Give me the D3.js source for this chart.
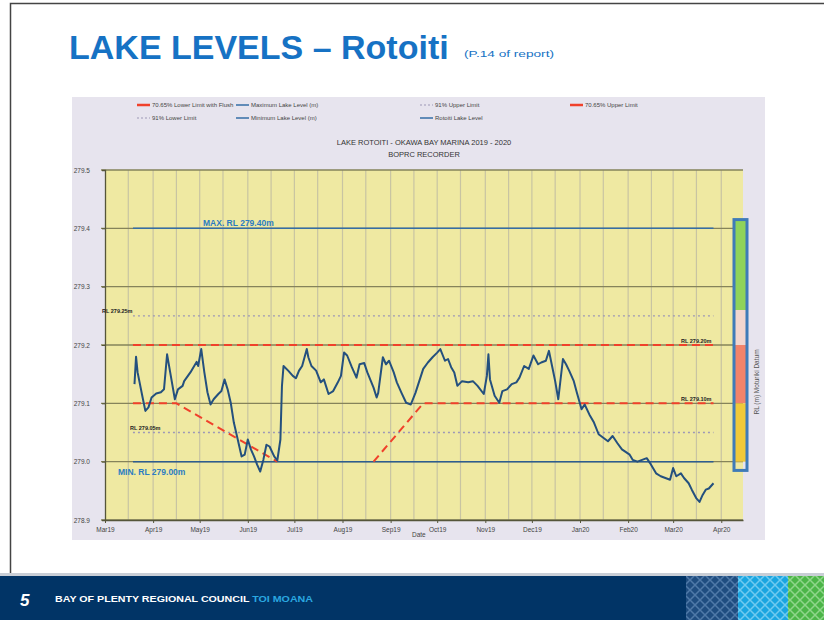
<!DOCTYPE html>
<html>
<head>
<meta charset="utf-8">
<script src="https://cdn.jsdelivr.net/npm/d3@7"></script>
<style>
  body { margin: 0; background: #fff; }
  svg { display: block; font-family: "Liberation Sans", Arial, sans-serif; }
</style>
</head>
<body>
<div id="slide"></div>
<script>
// lake level readings
const levelDates = [
  "2019-03-20","2019-03-21","2019-03-22","2019-03-25","2019-03-27","2019-03-29","2019-03-31",
  "2019-04-03","2019-04-06","2019-04-08","2019-04-10","2019-04-12","2019-04-15","2019-04-17",
  "2019-04-20","2019-04-21","2019-04-25","2019-04-29","2019-04-30","2019-05-02","2019-05-04",
  "2019-05-06","2019-05-08","2019-05-10","2019-05-13","2019-05-15","2019-05-17","2019-05-19",
  "2019-05-21","2019-05-23","2019-05-25","2019-05-28","2019-05-30","2019-06-01","2019-06-03",
  "2019-06-05","2019-06-07","2019-06-09","2019-06-11","2019-06-13","2019-06-15","2019-06-18",
  "2019-06-20","2019-06-22","2019-06-23","2019-06-24","2019-06-27","2019-06-30","2019-07-02",
  "2019-07-04","2019-07-06","2019-07-09","2019-07-10","2019-07-12","2019-07-15","2019-07-18",
  "2019-07-20","2019-07-23","2019-07-26","2019-07-29","2019-07-31","2019-08-02","2019-08-04",
  "2019-08-07","2019-08-10","2019-08-12","2019-08-15","2019-08-17","2019-08-21","2019-08-23",
  "2019-08-24","2019-08-27","2019-08-29","2019-08-31","2019-09-03","2019-09-05","2019-09-08",
  "2019-09-11","2019-09-14","2019-09-17","2019-09-22","2019-09-25","2019-09-28","2019-10-01",
  "2019-10-03","2019-10-06","2019-10-08","2019-10-10","2019-10-12","2019-10-14","2019-10-17",
  "2019-10-21","2019-10-24","2019-10-27","2019-10-31","2019-11-02","2019-11-03","2019-11-04",
  "2019-11-07","2019-11-10","2019-11-12","2019-11-15","2019-11-18","2019-11-21","2019-11-23",
  "2019-11-26","2019-11-29","2019-12-02","2019-12-05","2019-12-07","2019-12-10","2019-12-12",
  "2019-12-14","2019-12-16","2019-12-18","2019-12-21","2019-12-23","2019-12-25","2019-12-28",
  "2019-12-30","2020-01-02","2020-01-04","2020-01-07","2020-01-10","2020-01-13","2020-01-16",
  "2020-01-19","2020-01-22","2020-01-25","2020-01-28","2020-02-02","2020-02-04","2020-02-07",
  "2020-02-10","2020-02-13","2020-02-15","2020-02-19","2020-02-22","2020-02-25","2020-02-28",
  "2020-03-01","2020-03-03","2020-03-06","2020-03-08","2020-03-11","2020-03-13","2020-03-16",
  "2020-03-18","2020-03-20","2020-03-22","2020-03-24","2020-03-27"
];
const levelValues = [
  279.133,279.180,279.153,279.113,279.087,279.093,279.110,
  279.117,279.119,279.124,279.184,279.153,279.107,279.124,
  279.130,279.138,279.153,279.171,279.164,279.193,279.153,
  279.119,279.098,279.107,279.116,279.121,279.141,279.124,
  279.101,279.067,279.044,279.009,279.012,279.038,279.021,
  279.009,278.995,278.983,279.003,279.029,279.026,279.009,
  279.002,279.038,279.130,279.164,279.156,279.147,279.143,
  279.156,279.164,279.193,279.179,279.164,279.156,279.136,
  279.141,279.116,279.121,279.136,279.147,279.187,279.182,
  279.162,279.144,279.167,279.169,279.153,279.127,279.110,
  279.118,279.179,279.167,279.173,279.153,279.136,279.118,
  279.101,279.098,279.118,279.159,279.170,279.179,279.187,
  279.193,279.173,279.176,279.162,279.153,279.130,279.138,
  279.136,279.138,279.130,279.116,279.147,279.184,279.141,
  279.113,279.101,279.121,279.124,279.133,279.136,279.144,
  279.164,279.159,279.182,279.167,279.170,279.173,279.190,
  279.164,279.138,279.107,279.176,279.167,279.156,279.138,
  279.118,279.090,279.098,279.081,279.067,279.047,279.041,
  279.035,279.044,279.032,279.021,279.012,279.003,279.000,
  279.003,279.006,278.998,278.980,278.975,278.972,278.969,
  278.989,278.975,278.980,278.972,278.963,278.952,278.937,
  278.931,278.943,278.952,278.954,278.963
];

// flat limits over the period
const limitStart = "2019-03-19";
const limitEnd = "2020-03-27";
const maxLevel = 279.40;
const minLevel = 279.00;
const upper91 = 279.25;
const lower91 = 279.05;
const upper7065 = 279.20;

// 70.65% lower limit with flush (null = break)
const flushDates = ["2019-03-19","2019-04-16","2019-06-20","2019-07-20","2019-08-21","2019-09-22","2020-03-27"];
const flushValues = [279.10, 279.10, 279.00, null, 279.00, 279.10, 279.10];

const yTicks = [279.5, 279.4, 279.3, 279.2, 279.1, 279.0, 278.9];
const xDomain = ["2019-03-01", "2020-04-15"];

const W = 824, H = 620;
const parse = d3.timeParse("%Y-%m-%d");

const svg = d3.select("#slide").append("svg")
  .attr("width", W).attr("height", H);

// slide frame
svg.append("rect").attr("x", 10.5).attr("y", 3.5).attr("width", W).attr("height", H)
  .attr("fill", "#fff").attr("stroke", "#444").attr("stroke-width", 1.5);

svg.append("text").attr("x", 69).attr("y", 59)
  .attr("font-size", 34).attr("font-weight", "bold").attr("fill", "#1672c4")
  .text("LAKE LEVELS \u2013 Rotoiti");
svg.append("text").attr("x", 464).attr("y", 57)
  .attr("font-size", 9.5).attr("fill", "#1672c4")
  .attr("textLength", 90).attr("lengthAdjust", "spacingAndGlyphs")
  .text("(P.14 of report)");

// embedded chart picture
const box = { x: 72, y: 97, w: 693, h: 443 };
svg.append("rect").attr("x", box.x).attr("y", box.y).attr("width", box.w).attr("height", box.h)
  .attr("fill", "#e7e4ee");

const x = d3.scaleTime().domain(xDomain.map(parse)).range([105, 743]);
const y = d3.scaleLinear().domain([278.9, 279.5]).range([520, 170]);

const plot = svg.append("g");
plot.append("rect").attr("x", 105).attr("y", 170).attr("width", 638).attr("height", 350)
  .attr("fill", "#efe9a2");

// half-month vertical grid
const grid = d3.timeDay.range(parse("2019-03-02"), parse("2020-04-14"))
  .filter(d => d.getDate() === 1 || d.getDate() === 16);
plot.selectAll(".vg").data(grid).enter().append("line")
  .attr("x1", d => x(d)).attr("x2", d => x(d))
  .attr("y1", 170).attr("y2", 520)
  .attr("stroke", "#c8c4a2").attr("stroke-width", 1.2);

plot.selectAll(".hg").data(yTicks).enter().append("line")
  .attr("x1", 101).attr("x2", 743)
  .attr("y1", d => y(d)).attr("y2", d => y(d))
  .attr("stroke", "#85835a").attr("stroke-width", 1.3);

const yAxis = svg.append("g").attr("transform", "translate(105,0)")
  .call(d3.axisLeft(y).tickValues(yTicks).tickFormat(d3.format(".1f")).tickSize(3).tickPadding(12));
const xAxis = svg.append("g").attr("transform", "translate(0,520)")
  .call(d3.axisBottom(x).ticks(d3.timeMonth.every(1)).tickFormat(d3.timeFormat("%b%y"))
    .tickSize(3).tickSizeOuter(0).tickPadding(4));
[yAxis, xAxis].forEach(a => {
  a.select(".domain").attr("stroke", "#55553a").attr("stroke-width", 1.3);
  a.selectAll(".tick line").attr("stroke", "#55553a");
  a.selectAll("text").attr("font-size", 6.5).attr("fill", "#444")
    .attr("font-family", "Liberation Sans, Arial, sans-serif");
});

svg.append("text").attr("x", 412).attr("y", 537).attr("font-size", 6.5).attr("fill", "#444").text("Date");

// reference lines
const s0 = parse(limitStart), s1 = parse(limitEnd);
const flat = (v, color, width, dash) => plot.append("line")
  .attr("x1", x(s0)).attr("x2", x(s1)).attr("y1", y(v)).attr("y2", y(v))
  .attr("stroke", color).attr("stroke-width", width).attr("stroke-dasharray", dash);
flat(upper91, "#9d98b6", 1.3, "2,3");
flat(lower91, "#9d98b6", 1.3, "2,3");
flat(maxLevel, "#356ea6", 1.5, null);
flat(minLevel, "#2d5d90", 1.5, null);
flat(upper7065, "#f0412b", 2, "8,5");

const flush = flushDates.map((d, i) => ({ d: parse(d), v: flushValues[i] }));
plot.append("path").datum(flush)
  .attr("fill", "none").attr("stroke", "#f0412b").attr("stroke-width", 2).attr("stroke-dasharray", "8,5")
  .attr("d", d3.line().defined(p => p.v != null).x(p => x(p.d)).y(p => y(p.v)));

const level = levelDates.map((d, i) => ({ d: parse(d), v: levelValues[i] }));
plot.append("path").datum(level)
  .attr("fill", "none").attr("stroke", "#24507e").attr("stroke-width", 2).attr("stroke-linejoin", "round")
  .attr("d", d3.line().x(p => x(p.d)).y(p => y(p.v)));

// line labels
const lab = (tx, ty, t, size, color, bold) => svg.append("text")
  .attr("x", tx).attr("y", ty).attr("font-size", size).attr("fill", color)
  .attr("font-weight", bold ? "bold" : "normal").text(t);
lab(203, y(maxLevel) - 2, "MAX. RL 279.40m", 8.5, "#2b7cc2", true);
lab(118, y(minLevel) + 13, "MIN. RL 279.00m", 8.5, "#2b7cc2", true);
lab(102, y(upper91) - 3, "RL 279.25m", 5.5, "#222", true);
lab(130, y(lower91) - 3, "RL 279.05m", 5.5, "#222", true);
lab(681, y(upper7065) - 2, "RL 279.20m", 5.5, "#222", true);
lab(681, y(279.1) - 2, "RL 279.10m", 5.5, "#222", true);

// colour gauge at right
const gauge = [
  { top: 279.415, bot: 279.26, fill: "#8fd35a" },
  { top: 279.26, bot: 279.2, fill: "#f2d6cf" },
  { top: 279.2, bot: 279.1, fill: "#f2836a" },
  { top: 279.1, bot: 279.0, fill: "#f0c93a" }
];
svg.selectAll(".gz").data(gauge).enter().append("rect")
  .attr("x", 735).attr("width", 11)
  .attr("y", d => y(d.top)).attr("height", d => y(d.bot) - y(d.top))
  .attr("fill", d => d.fill);
svg.append("rect").attr("x", 734).attr("y", y(279.415)).attr("width", 13).attr("height", y(278.985) - y(279.415))
  .attr("fill", "none").attr("stroke", "#3f7bb8").attr("stroke-width", 3);
svg.append("text").attr("transform", "translate(759,382) rotate(-90)")
  .attr("text-anchor", "middle").attr("font-size", 6.5).attr("fill", "#555")
  .text("RL (m) Moturiki Datum");

// chart titles
svg.append("text").attr("x", 424).attr("y", 145).attr("text-anchor", "middle")
  .attr("font-size", 7.5).attr("fill", "#333").text("LAKE ROTOITI - OKAWA BAY MARINA 2019 - 2020");
svg.append("text").attr("x", 424).attr("y", 157).attr("text-anchor", "middle")
  .attr("font-size", 7.5).attr("fill", "#333").text("BOPRC RECORDER");

// legend
const legend = [
  { x: 137, y: 105, t: "70.65% Lower Limit with Flush", c: "#f0412b", dash: null, w: 2.5 },
  { x: 236, y: 105, t: "Maximum Lake Level (m)", c: "#356ea6", dash: null, w: 1.5 },
  { x: 420, y: 105, t: "91% Upper Limit", c: "#9d98b6", dash: "2,2", w: 1.2 },
  { x: 570, y: 105, t: "70.65% Upper Limit", c: "#f0412b", dash: null, w: 2.5 },
  { x: 137, y: 118, t: "91% Lower Limit", c: "#9d98b6", dash: "2,2", w: 1.2 },
  { x: 236, y: 118, t: "Minimum Lake Level (m)", c: "#356ea6", dash: null, w: 1.5 },
  { x: 420, y: 118, t: "Rotoiti Lake Level", c: "#356ea6", dash: null, w: 1.5 }
];
const lg = svg.selectAll(".lg").data(legend).enter().append("g");
lg.append("line").attr("x1", d => d.x).attr("x2", d => d.x + 13)
  .attr("y1", d => d.y).attr("y2", d => d.y)
  .attr("stroke", d => d.c).attr("stroke-width", d => d.w).attr("stroke-dasharray", d => d.dash);
lg.append("text").attr("x", d => d.x + 15).attr("y", d => d.y + 2.2)
  .attr("font-size", 6).attr("fill", "#444").text(d => d.t);

// footer band
const defs = svg.append("defs");
const pat = (id, bg, fg) => {
  const p = defs.append("pattern").attr("id", id).attr("width", 10).attr("height", 10)
    .attr("patternUnits", "userSpaceOnUse");
  p.append("rect").attr("width", 10).attr("height", 10).attr("fill", bg);
  p.append("path").attr("d", "M0,0 L10,10 M10,0 L0,10").attr("stroke", fg).attr("stroke-width", 1.5);
};
pat("pBlue", "#1f4d80", "#4f79a8");
pat("pCyan", "#1aa5e0", "#6fcaf0");
pat("pGreen", "#4cb548", "#8fd68a");

svg.append("rect").attr("x", 0).attr("y", 573).attr("width", W).attr("height", 3).attr("fill", "#c9ced6");
svg.append("rect").attr("x", 0).attr("y", 576).attr("width", W).attr("height", 44).attr("fill", "#013466");
svg.append("rect").attr("x", 686).attr("y", 576).attr("width", 52).attr("height", 44).attr("fill", "url(#pBlue)");
svg.append("rect").attr("x", 738).attr("y", 576).attr("width", 50).attr("height", 44).attr("fill", "url(#pCyan)");
svg.append("rect").attr("x", 788).attr("y", 576).attr("width", 36).attr("height", 44).attr("fill", "url(#pGreen)");

svg.append("text").attr("x", 20).attr("y", 606).attr("font-size", 17).attr("font-weight", "bold")
  .attr("font-style", "italic").attr("fill", "#fff").text("5");
const ft = svg.append("text").attr("x", 55).attr("y", 602).attr("font-size", 9).attr("font-weight", "bold")
  .attr("fill", "#fff").attr("textLength", 258).attr("lengthAdjust", "spacingAndGlyphs")
  .text("BAY OF PLENTY REGIONAL COUNCIL ");
ft.append("tspan").attr("fill", "#2aa8e0").text("TOI MOANA");
</script>
</body>
</html>
